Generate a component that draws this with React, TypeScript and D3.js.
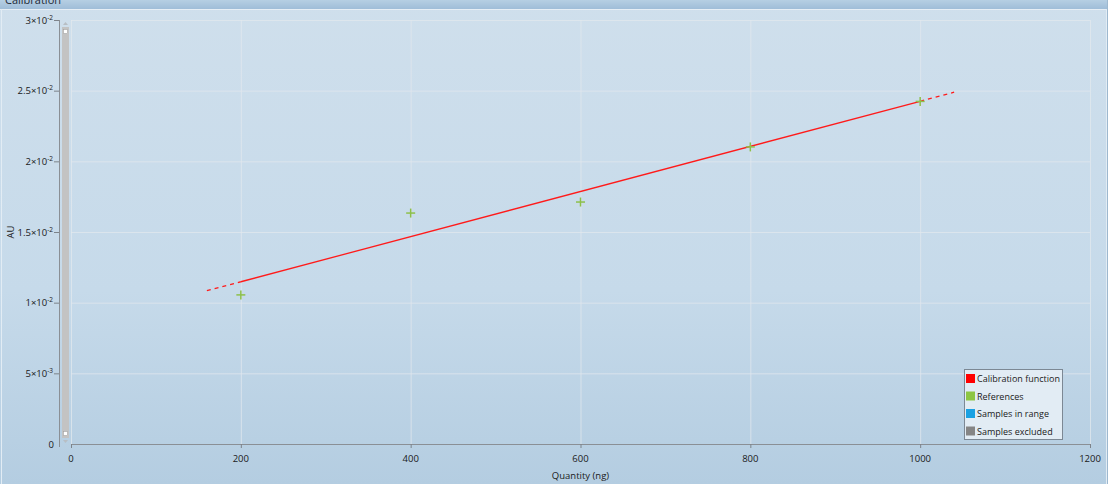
import React from 'react';
import * as d3 from 'd3';

// reference points (Quantity ng, AU)
const refQuantities = [200, 400, 600, 800, 1000];
const refValues = [0.01055, 0.01634, 0.01712, 0.02102, 0.02424];

// calibration function: dashed extrapolation at both ends
const calQuantities = [160, 200, 1000, 1040];
const calValues = [0.01085, 0.01148, 0.02425, 0.02489];

const xTicks = [0, 200, 400, 600, 800, 1000, 1200];
const yTicks = [0, 0.005, 0.01, 0.015, 0.02, 0.025, 0.03];
const yTickMant = ['0', '5', '1', '1.5', '2', '2.5', '3'];
const yTickExp = ['', '-3', '-2', '-2', '-2', '-2', '-2'];

const legendItems = ['Calibration function', 'References', 'Samples in range', 'Samples excluded'];
const legendColors = ['#ff0000', '#8dc643', '#1ba1e2', '#858585'];

const W = 1108;
const H = 484;
const FONT = '"Open Sans", "Noto Sans", sans-serif';

export default function App() {
  const x = d3.scaleLinear().domain([0, 1200]).range([71, 1090]);
  const y = d3.scaleLinear().domain([0, 0.03]).range([444, 20]);

  const line = d3.line<[number, number]>()
    .x(d => x(d[0]))
    .y(d => y(d[1]));

  const pts: [number, number][] = calQuantities.map((q, i) => [q, calValues[i]]);
  const solid = pts.slice(1, 3);
  const dashL = pts.slice(0, 2);
  const dashR = pts.slice(2, 4);

  const legX = 964;
  const legY = 369;

  return (
    <svg width={W} height={H} style={{ position: 'fixed', left: 0, top: 0 }} fontFamily={FONT}>
      <defs>
        <linearGradient id="bg" x1="0" y1="0" x2="0" y2="1">
          <stop offset="0" stopColor="#cfdfec" />
          <stop offset="0.6" stopColor="#c6daea" />
          <stop offset="1" stopColor="#b4cde1" />
        </linearGradient>
        <linearGradient id="title" x1="0" y1="0" x2="0" y2="1">
          <stop offset="0" stopColor="#b6cfe3" />
          <stop offset="1" stopColor="#9fbdd8" />
        </linearGradient>
      </defs>

      {/* panel */}
      <rect x={0} y={0} width={W} height={H} fill="url(#bg)" />
      <rect x={0} y={0} width={W} height={9} fill="url(#title)" />
      <text x={5} y={4} fontSize={11} fill="#1e2a36">Calibration</text>
      <line x1={0} x2={W} y1={9.5} y2={9.5} stroke="#e6eef5" />
      <line x1={1.5} x2={1.5} y1={9} y2={H} stroke="#e2ecf4" />
      <line x1={1106.5} x2={1106.5} y1={9} y2={H} stroke="#e2ecf4" />
      <line x1={W - 0.5} x2={W - 0.5} y1={0} y2={H} stroke="#9db8cf" />

      {/* grid */}
      <g stroke="#e2e8ee" strokeOpacity={0.75}>
        {xTicks.map(t => (
          <line key={'gx' + t} x1={x(t) + 0.5} x2={x(t) + 0.5} y1={y(0.03)} y2={y(0)} />
        ))}
        {yTicks.map(t => (
          <line key={'gy' + t} x1={x(0)} x2={x(1200)} y1={y(t) + 0.5} y2={y(t) + 0.5} />
        ))}
      </g>

      {/* y axis */}
      <line x1={59.5} x2={59.5} y1={y(0.03)} y2={y(0) + 3} stroke="#8a8f95" />
      {yTicks.map((t, i) => (
        <g key={'yt' + t}>
          {i > 0 && <line x1={54} x2={59} y1={y(t) + 0.5} y2={y(t) + 0.5} stroke="#7d838a" />}
          <text x={i > 0 ? 53 : 54} y={y(t) + 3.5} fontSize={9.5} fill="#1a1a1a" textAnchor="end">
            {yTickMant[i]}
            {yTickExp[i] && <tspan>×10</tspan>}
            {yTickExp[i] && <tspan fontSize={6.5} dy={-4}>{yTickExp[i]}</tspan>}
          </text>
        </g>
      ))}
      <text transform={`translate(14,${y(0.015)}) rotate(-90)`} fontSize={9.5} fill="#1a1a1a" textAnchor="middle">AU</text>

      {/* scrollbar */}
      <rect x={62} y={27} width={7} height={411} fill="#c3c3c3" />
      <path d="M63,25 L65.5,22 L68,25 Z" fill="#b8bec4" />
      <path d="M63,440 L65.5,443 L68,440 Z" fill="#b8bec4" />
      <rect x={63.5} y={29.5} width={4} height={4} fill="#ffffff" stroke="#9a9a9a" strokeWidth={0.5} />
      <rect x={63.5} y={431.5} width={4} height={4} fill="#ffffff" stroke="#9a9a9a" strokeWidth={0.5} />

      {/* x axis */}
      <line x1={x(0)} x2={x(1200)} y1={444.5} y2={444.5} stroke="#8a8f95" />
      {xTicks.map(t => (
        <g key={'xt' + t}>
          <line x1={x(t) + 0.5} x2={x(t) + 0.5} y1={444} y2={448} stroke="#7d838a" />
          <text x={x(t)} y={462} fontSize={9.5} fill="#1a1a1a" textAnchor="middle">{t}</text>
        </g>
      ))}
      <text x={x(600)} y={479} fontSize={9.5} fill="#1a1a1a" textAnchor="middle">Quantity (ng)</text>

      {/* calibration function */}
      <path d={line(solid) || ''} fill="none" stroke="#ff1a1a" strokeWidth={1.3} />
      <path d={line(dashL) || ''} fill="none" stroke="#ff1a1a" strokeWidth={1.3} strokeDasharray="4,4" />
      <path d={line(dashR) || ''} fill="none" stroke="#ff1a1a" strokeWidth={1.3} strokeDasharray="4,4" />

      {/* references */}
      <g stroke="#8dc04a" strokeWidth={1.5}>
        {refQuantities.map((q, i) => (
          <g key={'r' + q}>
            <line x1={x(q) - 4.5} x2={x(q) + 4.5} y1={y(refValues[i])} y2={y(refValues[i])} />
            <line x1={x(q)} x2={x(q)} y1={y(refValues[i]) - 4.5} y2={y(refValues[i]) + 4.5} />
          </g>
        ))}
      </g>

      {/* legend */}
      <rect x={legX + 0.5} y={legY + 0.5} width={98} height={70} fill="#e2ecf4" stroke="#7c8894" />
      {legendItems.map((name, i) => (
        <g key={name}>
          <rect x={legX + 2} y={legY + 5 + i * 17.5} width={9} height={9} fill={legendColors[i]} />
          <text x={legX + 13} y={legY + 13 + i * 17.5} fontSize={9} fill="#1a1a1a">{name}</text>
        </g>
      ))}
    </svg>
  );
}
